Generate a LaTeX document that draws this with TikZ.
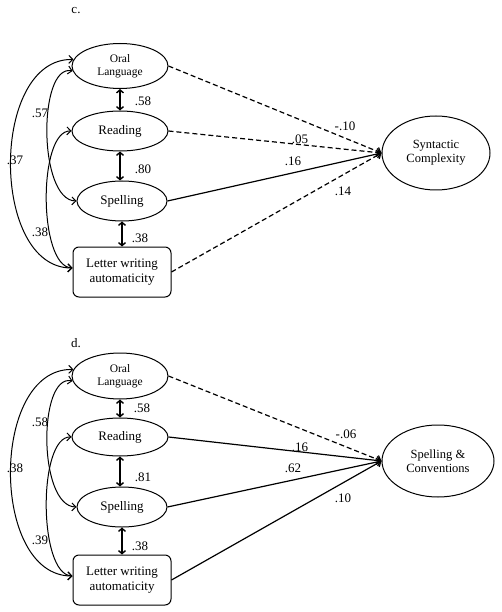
\documentclass[tikz,border=0pt]{standalone}
\usepackage{fontspec}
\setmainfont{Liberation Serif}
\usetikzlibrary{arrows.meta,shapes.geometric}

\begin{document}
\begin{tikzpicture}[x=1pt, y=-1pt,
		every node/.style={font=\fontsize{13}{14.5}\selectfont},
		latent/.style={draw, ellipse, line width=1pt, inner sep=0pt, align=center},
		observed/.style={draw, rounded corners=6pt, line width=1pt, align=center,
			minimum width=98pt, minimum height=50pt},
		cov/.style={{Straight Barb[length=4pt,width=8pt]}-{Straight Barb[length=4pt,width=8pt]}, line width=1pt},
		corr/.style={{Straight Barb[length=3pt,width=7pt]}-{Straight Barb[length=3pt,width=7pt]}, line width=1.4pt},
		regress/.style={-{Straight Barb[length=4pt,width=8pt]}, line width=1.2pt},
		regressns/.style={regress, dash pattern=on 5pt off 3pt},
		coef/.style={inner sep=0pt}]
	\useasboundingbox (0,0) rectangle (501,612);

	% c.
	\begin{scope}
		\node (tagc) at (76,11) {c.};

		\node[latent, minimum width=96pt, minimum height=45pt, font=\fontsize{11.5}{13}\selectfont] (oralc) at (120,66) {Oral\\Language};
		\node[latent, minimum width=96pt, minimum height=40pt] (readc) at (120,131) {Reading};
		\node[latent, minimum width=90pt, minimum height=40pt] (spellc) at (122,201) {Spelling};
		\node[observed] (letterc) at (122,272) {Letter writing\\automaticity};
		\node[latent, minimum width=108pt, minimum height=74pt, font=\fontsize{12.5}{14}\selectfont] (sync) at (436,153) {Syntactic\\Complexity};

		\draw[corr] (oralc.south) -- (oralc.south |- readc.north);
		\draw[corr] (readc.south) -- (readc.south |- spellc.north);
		\draw[corr] (spellc.south) -- (spellc.south |- letterc.north);

		\draw[cov] (oralc.172) .. controls (-10,58) and (-10,268) .. ([yshift=4pt]letterc.west);
		\draw[cov] (oralc.186) .. controls (38,64) and (38,200) .. (spellc.west);
		\draw[cov] (readc.west) .. controls (38,130) and (38,266) .. ([yshift=4pt]letterc.west);

		\draw[regressns] (oralc.east) -- (sync.west);
		\draw[regressns] (readc.east) -- (sync.west);
		\draw[regress] (spellc.east) -- (sync.west);
		\draw[regressns] (letterc.east) -- (sync.west);

		\node[coef] (c1) at (143,101) {.58};
		\node[coef] (c2) at (143,169) {.80};
		\node[coef] (c3) at (140,238) {.38};
		\node[coef] (c4) at (40,113) {.57};
		\node[coef] (c5) at (15,160) {.37};
		\node[coef] (c6) at (40,232) {.38};
		\node[coef] (c7) at (345,126) {-.10};
		\node[coef] (c8) at (300,139) {.05};
		\node[coef] (c9) at (293,161) {.16};
		\node[coef] (c10) at (343,191) {.14};
	\end{scope}

	% d.
	\begin{scope}[shift={(0,308)}]
		\node (tagd) at (76,35) {d.};

		\node[latent, minimum width=96pt, minimum height=46pt, font=\fontsize{11.5}{13}\selectfont] (orald) at (120,68) {Oral\\Language};
		\node[latent, minimum width=96pt, minimum height=38pt] (readd) at (120,129) {Reading};
		\node[latent, minimum width=90pt, minimum height=40pt] (spelld) at (122,199) {Spelling};
		\node[observed] (letterd) at (122,272) {Letter writing\\automaticity};
		\node[latent, minimum width=112pt, minimum height=72pt, font=\fontsize{12.5}{14}\selectfont] (convd) at (438,153) {Spelling \&\\Conventions};

		\draw[corr] (orald.south) -- (orald.south |- readd.north);
		\draw[corr] (readd.south) -- (readd.south |- spelld.north);
		\draw[corr] (spelld.south) -- (spelld.south |- letterd.north);

		\draw[cov] (orald.172) .. controls (-10,60) and (-10,268) .. ([yshift=4pt]letterd.west);
		\draw[cov] (orald.186) .. controls (38,66) and (38,198) .. (spelld.west);
		\draw[cov] (readd.west) .. controls (38,128) and (38,266) .. ([yshift=4pt]letterd.west);

		\draw[regressns] (orald.east) -- (convd.west);
		\draw[regress] (readd.east) -- (convd.west);
		\draw[regress] (spelld.east) -- (convd.west);
		\draw[regress] (letterd.east) -- (convd.west);

		\node[coef] (d1) at (142,100) {.58};
		\node[coef] (d2) at (143,169) {.81};
		\node[coef] (d3) at (140,238) {.38};
		\node[coef] (d4) at (40,114) {.58};
		\node[coef] (d5) at (15,160) {.38};
		\node[coef] (d6) at (40,232) {.39};
		\node[coef] (d7) at (346,126) {-.06};
		\node[coef] (d8) at (300,139) {.16};
		\node[coef] (d9) at (293,160) {.62};
		\node[coef] (d10) at (343,190) {.10};
	\end{scope}
\end{tikzpicture}
\end{document}
